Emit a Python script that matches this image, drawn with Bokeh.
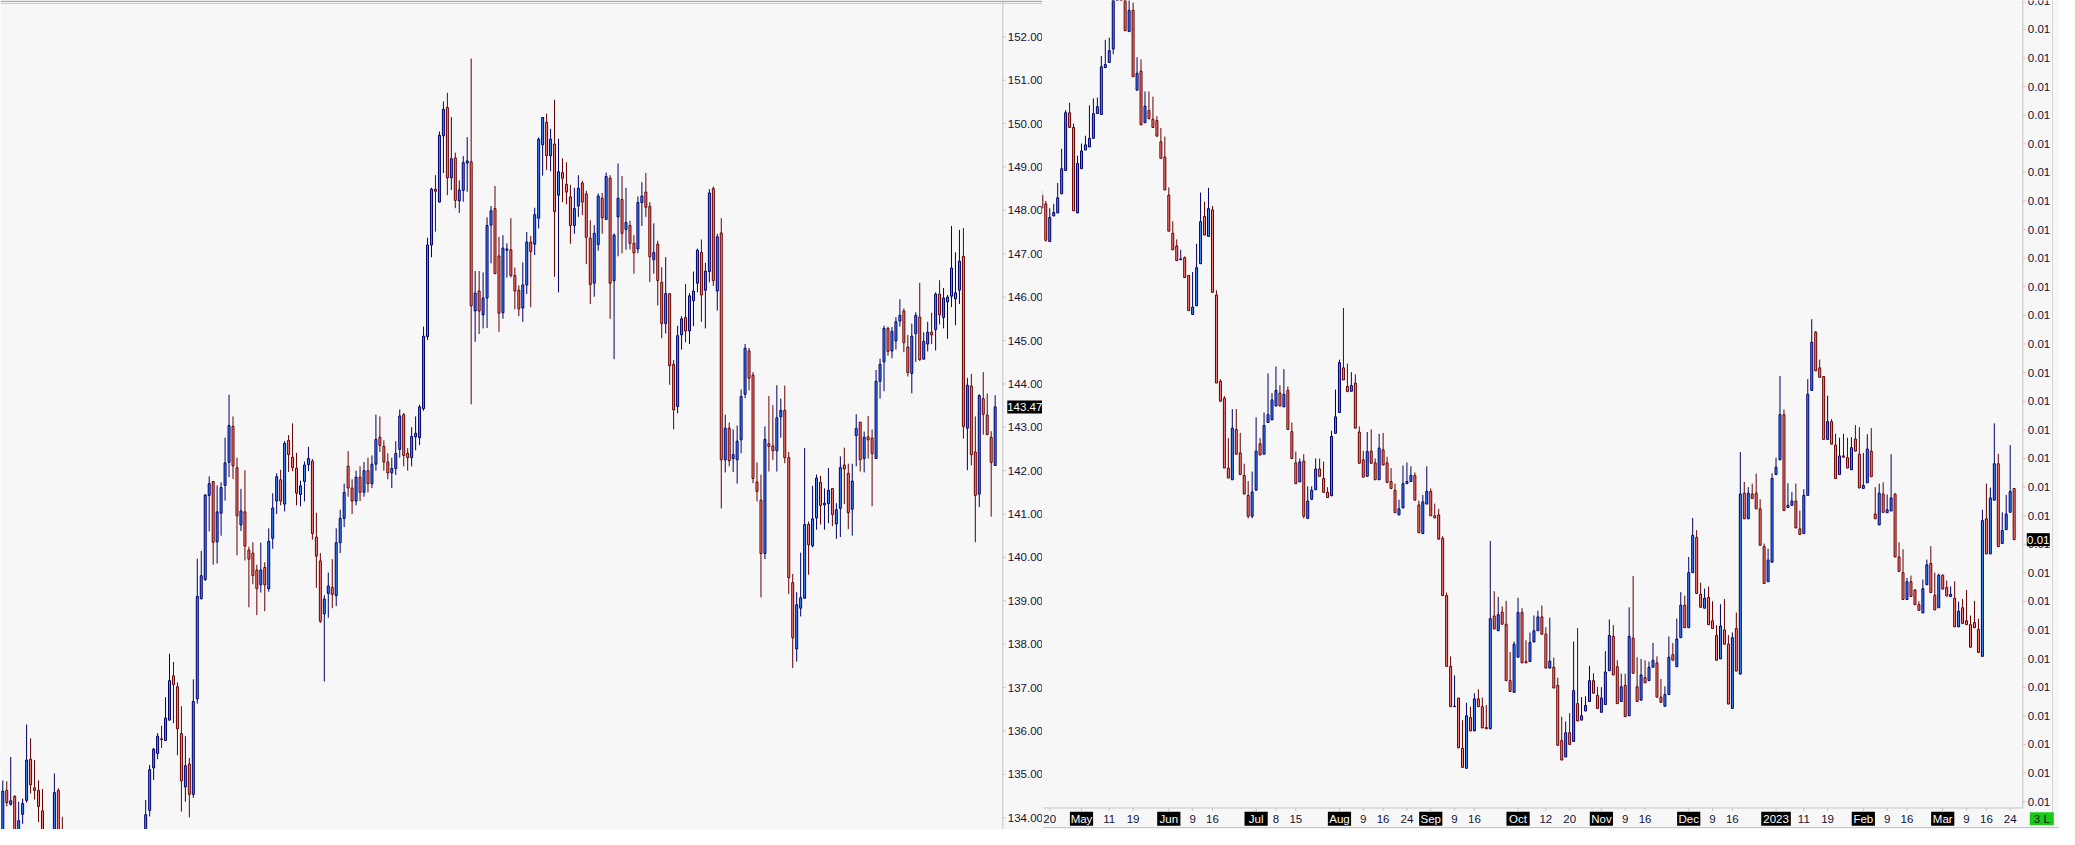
import pandas as pd
from bokeh.plotting import figure
from bokeh.layouts import row
from bokeh.models import ColumnDataSource, Span
from bokeh.core.properties import value
from bokeh.embed import file_html
from bokeh.resources import INLINE

# left panel, daily candles (price axis 134-152)
left_open = [
    133.60, 134.63, 134.31, 134.49, 133.60, 134.08, 134.40, 135.35, 134.69, 134.63,
    134.16, 133.50, 133.20, 133.45, 134.63, 133.50, 133.20, 132.90, 132.60, 132.80,
    132.40, 132.10, 132.50, 132.20, 131.90, 132.30, 132.60, 132.40, 132.80, 133.00,
    132.70, 133.10, 132.90, 133.20, 133.00, 133.30, 133.10, 134.17, 135.15, 135.48,
    135.82, 135.78, 136.25, 137.27, 137.02, 135.94, 134.71, 135.24, 134.54, 136.74,
    139.05, 139.49, 141.43, 141.75, 140.36, 141.02, 141.66, 142.19, 143.02, 142.07,
    140.75, 141.05, 140.17, 140.10, 139.71, 139.37, 139.77, 139.28, 140.44, 141.30,
    141.79, 141.23, 142.70, 142.31, 142.06, 141.45, 141.75, 142.14, 142.22, 140.47,
    139.92, 138.70, 139.17, 139.31, 139.12, 140.34, 140.90, 142.10, 141.60, 141.30,
    141.85, 141.50, 142.00, 141.70, 142.15, 142.77, 142.56, 142.20, 141.95, 142.05,
    142.49, 143.29, 142.40, 142.30, 142.78, 142.76, 143.43, 145.09, 147.20, 148.49,
    148.19, 149.72, 150.37, 148.75, 149.21, 148.22, 148.46, 149.09, 149.12, 145.68,
    146.14, 145.59, 145.98, 147.66, 148.04, 146.95, 145.64, 147.08, 147.09, 146.50,
    146.16, 145.75, 146.28, 147.27, 147.22, 147.82, 149.51, 150.03, 149.26, 149.53,
    148.35, 148.87, 148.60, 148.31, 147.65, 148.10, 148.63, 148.38, 147.36, 146.32,
    147.21, 148.28, 147.79, 148.74, 146.38, 147.85, 148.25, 147.56, 147.65, 147.24,
    147.11, 148.18, 148.42, 148.09, 146.86, 147.22, 146.34, 145.39, 146.08, 144.45,
    143.48, 145.13, 145.53, 145.22, 145.92, 146.32, 147.03, 146.16, 146.59, 148.50,
    146.14, 147.48, 142.25, 142.98, 142.28, 142.25, 142.71, 143.76, 144.76, 144.20,
    141.74, 141.32, 140.09, 142.62, 142.57, 142.46, 143.24, 143.39, 142.30, 139.42,
    137.89, 138.83, 139.06, 140.76, 140.27, 140.91, 141.73, 141.21, 141.24, 141.59,
    140.77, 141.13, 142.13, 141.94, 141.11, 142.81, 143.12, 142.28, 142.78, 142.75,
    142.28, 144.06, 144.51, 145.28, 144.76, 144.99, 145.45, 145.68, 144.85, 144.24,
    145.16, 145.54, 144.57, 144.92, 145.19, 145.25, 146.07, 145.53, 145.89, 146.02,
    145.96, 146.16, 146.94, 142.98, 143.95, 142.43, 141.46, 143.66, 143.28, 142.77,
    142.12,
]
left_high = [
    134.86, 134.84, 135.40, 134.52, 134.37, 134.44, 136.15, 135.83, 135.33, 134.86,
    134.66, 133.70, 133.60, 135.02, 134.68, 134.02, 133.50, 133.30, 133.10, 133.00,
    132.60, 132.70, 132.70, 132.40, 132.50, 132.80, 132.90, 133.00, 133.20, 133.20,
    133.30, 133.40, 133.40, 133.50, 133.60, 133.50, 134.41, 135.22, 135.61, 135.95,
    136.12, 136.78, 137.78, 137.59, 137.12, 136.57, 135.88, 135.38, 137.19, 139.97,
    140.15, 141.45, 141.87, 141.76, 141.66, 141.73, 142.76, 143.75, 143.25, 142.30,
    141.58, 142.01, 140.25, 140.35, 139.83, 140.34, 139.89, 140.67, 141.48, 141.94,
    142.02, 142.68, 142.82, 143.09, 142.41, 141.77, 142.21, 142.55, 142.27, 141.03,
    140.10, 139.13, 139.65, 139.96, 140.67, 141.10, 141.70, 142.45, 141.80, 142.00,
    142.10, 142.20, 142.30, 142.35, 143.29, 143.25, 142.70, 142.40, 142.30, 142.68,
    143.41, 143.33, 142.52, 143.00, 143.25, 143.52, 145.32, 147.37, 148.52, 148.81,
    149.82, 150.51, 150.71, 150.15, 149.33, 148.69, 149.25, 149.69, 151.50, 146.60,
    146.60, 146.57, 147.84, 148.10, 148.56, 147.39, 147.43, 147.24, 147.82, 146.68,
    146.27, 146.80, 147.50, 147.41, 148.06, 149.68, 150.14, 150.23, 149.88, 150.55,
    149.65, 149.20, 149.11, 148.59, 148.52, 148.81, 148.68, 148.45, 147.77, 147.66,
    148.39, 148.40, 148.87, 148.81, 147.47, 149.08, 148.79, 148.52, 147.76, 147.43,
    148.32, 148.65, 148.86, 148.19, 147.70, 147.30, 146.69, 146.92, 146.08, 144.55,
    145.34, 145.56, 146.30, 146.09, 146.59, 147.12, 147.33, 146.79, 148.49, 148.55,
    147.46, 147.82, 143.29, 143.11, 142.95, 143.04, 143.87, 144.92, 144.83, 144.27,
    142.19, 141.91, 143.02, 143.72, 143.51, 143.97, 143.66, 143.96, 142.43, 139.62,
    139.20, 140.11, 142.52, 140.83, 141.65, 141.91, 141.88, 141.59, 142.06, 141.59,
    141.25, 142.33, 142.53, 142.16, 142.16, 143.30, 143.12, 142.90, 143.26, 142.95,
    144.32, 144.58, 145.34, 145.32, 145.31, 145.54, 145.95, 145.74, 145.13, 145.39,
    145.65, 146.33, 145.19, 145.43, 145.64, 146.11, 146.39, 146.21, 146.05, 147.64,
    147.03, 147.55, 147.59, 144.14, 144.23, 143.25, 143.76, 144.27, 143.78, 142.91,
    143.74,
]
left_low = [
    133.40, 134.26, 134.28, 133.40, 133.40, 133.86, 134.35, 134.56, 134.42, 133.90,
    133.40, 133.00, 132.80, 133.30, 133.30, 133.00, 132.70, 132.40, 132.40, 132.20,
    131.80, 131.90, 132.00, 131.70, 131.80, 132.10, 132.20, 132.30, 132.60, 132.50,
    132.60, 132.70, 132.80, 132.80, 132.90, 132.90, 133.00, 134.03, 134.87, 135.35,
    135.61, 135.78, 136.25, 136.18, 135.44, 134.14, 134.37, 134.01, 134.46, 136.63,
    139.03, 139.46, 140.60, 139.83, 139.86, 140.50, 141.31, 141.85, 141.81, 140.05,
    140.61, 139.93, 138.85, 139.38, 138.67, 139.19, 138.76, 139.21, 140.20, 141.00,
    141.20, 141.06, 141.97, 141.99, 141.20, 141.18, 141.29, 141.99, 140.41, 139.30,
    138.49, 137.14, 138.61, 138.83, 138.88, 140.10, 140.70, 141.40, 141.00, 141.20,
    141.30, 141.40, 141.50, 141.60, 142.00, 142.43, 142.00, 141.80, 141.60, 141.90,
    142.30, 142.10, 142.00, 142.10, 142.47, 142.59, 143.38, 145.01, 146.92, 147.51,
    148.19, 148.86, 148.35, 148.47, 148.05, 147.94, 148.20, 148.43, 143.53, 144.97,
    145.15, 145.28, 145.29, 146.78, 146.54, 145.20, 145.50, 146.45, 146.45, 145.72,
    145.56, 145.43, 146.07, 145.77, 146.97, 147.58, 148.80, 148.93, 148.90, 146.47,
    146.11, 148.19, 148.14, 147.23, 147.46, 147.85, 147.89, 146.76, 145.84, 146.01,
    147.07, 147.46, 147.79, 145.50, 144.57, 146.94, 147.01, 147.09, 147.10, 146.54,
    147.01, 147.64, 147.85, 146.35, 146.54, 145.81, 145.05, 145.16, 143.98, 142.95,
    143.32, 144.79, 144.96, 144.92, 145.33, 146.11, 145.43, 145.28, 146.34, 146.26,
    145.69, 141.13, 141.96, 142.10, 141.97, 141.70, 142.40, 143.67, 143.85, 141.71,
    141.29, 139.08, 139.96, 141.98, 142.25, 141.98, 142.76, 142.17, 139.16, 137.45,
    137.60, 138.64, 139.06, 139.60, 140.23, 140.64, 140.76, 140.64, 140.79, 140.72,
    140.43, 140.47, 141.23, 140.65, 140.50, 142.10, 141.98, 141.96, 142.28, 141.18,
    142.28, 143.66, 143.83, 144.65, 144.59, 144.79, 145.32, 144.73, 144.17, 143.78,
    144.51, 144.53, 144.56, 144.75, 144.92, 144.77, 145.37, 145.28, 145.04, 145.77,
    145.35, 145.84, 142.74, 142.01, 142.12, 140.35, 141.16, 142.83, 142.83, 140.94,
    142.12,
]
left_close = [
    134.61, 134.35, 134.39, 133.60, 133.93, 134.33, 135.33, 134.76, 134.63, 134.26,
    133.60, 133.20, 133.40, 134.58, 133.50, 133.20, 132.90, 132.60, 132.80, 132.40,
    132.10, 132.50, 132.20, 131.90, 132.30, 132.60, 132.40, 132.80, 133.00, 132.70,
    133.10, 132.90, 133.20, 133.00, 133.30, 133.10, 134.07, 135.11, 135.58, 135.88,
    135.80, 136.30, 137.16, 137.07, 136.05, 134.85, 135.20, 134.54, 136.68, 139.10,
    139.58, 141.44, 141.70, 140.35, 141.05, 141.61, 142.18, 143.04, 142.11, 140.96,
    141.07, 140.26, 139.96, 139.58, 139.28, 139.71, 139.37, 140.37, 141.14, 141.86,
    141.30, 142.63, 142.37, 142.07, 141.48, 141.65, 142.13, 142.28, 140.55, 140.03,
    138.53, 139.04, 139.34, 139.15, 140.34, 140.90, 141.50, 141.60, 141.30, 141.85,
    141.50, 142.00, 141.70, 142.15, 142.72, 142.58, 142.20, 141.95, 142.05, 142.40,
    143.26, 142.35, 142.30, 142.79, 142.86, 143.47, 145.10, 147.20, 148.49, 148.44,
    149.73, 150.33, 148.75, 149.19, 148.23, 148.47, 149.10, 149.14, 145.80, 146.09,
    145.68, 145.98, 147.65, 147.99, 146.54, 145.63, 147.13, 147.11, 146.50, 146.14,
    145.73, 146.28, 147.27, 147.05, 147.90, 149.64, 150.14, 149.26, 149.64, 147.97,
    148.89, 148.74, 148.42, 147.65, 148.04, 148.51, 148.19, 147.38, 146.29, 147.47,
    148.33, 147.83, 148.78, 146.32, 147.43, 148.28, 147.47, 147.72, 147.24, 147.02,
    148.18, 148.33, 148.07, 146.93, 147.03, 146.38, 145.39, 146.08, 144.42, 143.40,
    145.11, 145.50, 145.22, 146.03, 146.14, 147.08, 146.05, 146.60, 148.40, 146.38,
    147.39, 142.25, 142.98, 142.23, 142.37, 142.68, 143.71, 144.82, 144.13, 141.82,
    141.52, 140.09, 142.72, 142.56, 142.46, 143.22, 143.39, 142.30, 139.53, 138.15,
    138.91, 139.07, 140.76, 140.29, 140.89, 141.83, 141.20, 141.25, 141.55, 140.99,
    141.10, 142.07, 142.04, 141.03, 141.76, 142.97, 142.25, 142.77, 142.71, 142.39,
    144.06, 144.45, 145.28, 144.75, 145.21, 145.43, 145.58, 144.95, 144.26, 145.10,
    145.58, 144.56, 144.98, 145.19, 145.13, 146.07, 145.59, 145.98, 146.00, 146.67,
    146.10, 146.83, 143.02, 143.97, 142.37, 141.43, 143.73, 143.30, 142.83, 142.19,
    143.47,
]

# right panel, daily candles from 2022-04-18
right_open = [
    148.35, 148.15, 147.28, 147.87, 147.94, 148.38, 148.92, 150.25, 149.91, 147.94,
    148.96, 149.39, 149.46, 149.66, 150.23, 150.21, 151.29, 151.41, 151.72, 153.00,
    153.40, 153.10, 152.12, 152.61, 150.77, 151.21, 150.02, 150.30, 150.10, 150.07,
    149.58, 149.23, 148.35, 147.47, 147.18, 146.86, 146.91, 146.50, 145.60, 145.80,
    146.77, 147.86, 147.40, 148.01, 146.05, 144.06, 143.67, 142.06, 141.79, 142.95,
    142.41, 141.89, 141.43, 140.95, 141.55, 142.62, 142.38, 143.11, 143.17, 143.49,
    143.79, 143.47, 143.85, 142.90, 142.18, 141.74, 142.22, 140.90, 141.34, 141.56,
    142.04, 141.82, 141.50, 141.42, 142.86, 143.34, 144.37, 143.94, 143.83, 144.02,
    142.89, 142.25, 141.87, 142.45, 142.18, 141.79, 142.48, 142.18, 141.75, 141.55,
    140.98, 141.14, 141.70, 141.75, 141.89, 141.21, 140.55, 141.23, 141.52, 140.96,
    140.98, 140.44, 139.12, 137.49, 136.56, 136.76, 135.60, 135.14, 136.31, 136.00,
    136.74, 136.56, 136.08, 136.05, 138.65, 138.31, 138.74, 138.46, 137.16, 136.89,
    137.70, 138.73, 137.60, 137.60, 138.05, 138.31, 138.63, 138.23, 137.45, 137.47,
    137.05, 135.78, 135.40, 135.96, 135.76, 136.63, 136.25, 136.46, 136.68, 137.16,
    136.82, 136.43, 136.61, 137.39, 138.18, 137.48, 136.68, 137.05, 136.35, 138.14,
    137.02, 136.71, 137.23, 137.16, 137.47, 137.57, 136.78, 136.57, 136.84, 137.76,
    137.48, 138.15, 138.90, 138.38, 139.65, 140.46, 139.15, 138.83, 139.08, 138.54,
    138.20, 137.66, 138.33, 138.00, 136.52, 138.36, 137.31, 141.48, 140.89, 141.46,
    141.48, 141.12, 140.25, 139.44, 139.89, 141.91, 142.25, 143.29, 141.15, 141.20,
    141.30, 140.66, 140.55, 141.43, 143.85, 145.19, 144.37, 144.17, 142.72, 143.13,
    142.59, 141.91, 142.34, 142.30, 142.02, 142.73, 142.38, 141.59, 141.72, 142.45,
    141.00, 140.75, 141.46, 141.03, 141.07, 141.46, 140.01, 139.65, 139.03, 139.44,
    139.25, 138.91, 138.72, 139.37, 139.86, 139.13, 138.84, 139.59, 139.31, 139.10,
    139.06, 138.40, 138.84, 138.54, 138.45, 138.50, 138.34, 137.72, 140.89, 140.08,
    141.32, 142.16, 140.32, 140.64, 141.04, 141.59,
]
right_high = [
    148.47, 148.22, 148.05, 148.15, 148.63, 149.42, 150.31, 150.48, 150.00, 149.26,
    149.54, 149.72, 150.42, 150.58, 150.60, 151.56, 151.93, 151.98, 153.30, 153.60,
    153.80, 153.30, 153.00, 152.79, 151.53, 151.48, 150.74, 150.74, 150.62, 150.17,
    149.90, 149.70, 148.53, 147.75, 147.33, 147.09, 146.94, 146.50, 146.58, 147.23,
    148.41, 148.20, 148.52, 148.10, 146.16, 144.11, 143.72, 142.75, 143.42, 143.42,
    142.87, 142.16, 141.76, 141.98, 143.23, 142.75, 143.34, 144.24, 143.79, 144.40,
    143.97, 144.34, 143.94, 143.11, 142.44, 142.28, 142.38, 141.64, 141.64, 142.28,
    142.28, 142.21, 141.62, 142.92, 143.87, 144.56, 145.75, 144.47, 144.27, 144.22,
    143.02, 142.46, 142.89, 142.95, 142.28, 142.85, 142.87, 142.32, 142.06, 141.70,
    141.33, 142.12, 142.19, 142.10, 141.96, 141.31, 141.44, 142.10, 141.59, 141.24,
    141.12, 140.49, 139.19, 137.72, 137.28, 136.76, 136.25, 136.65, 136.56, 136.87,
    136.96, 136.77, 136.60, 140.38, 139.22, 139.09, 138.87, 139.00, 137.82, 138.06,
    139.07, 138.83, 138.09, 138.27, 138.66, 138.77, 138.89, 138.39, 138.61, 137.69,
    137.23, 136.33, 136.22, 136.41, 138.06, 138.37, 136.78, 136.80, 137.50, 137.33,
    137.02, 137.01, 137.84, 138.57, 138.44, 137.63, 137.32, 137.32, 138.85, 139.57,
    137.70, 137.66, 137.63, 137.60, 138.03, 137.72, 137.20, 137.03, 138.18, 138.03,
    138.59, 139.20, 139.12, 140.01, 140.91, 140.63, 139.42, 139.28, 139.33, 138.99,
    138.44, 138.92, 139.04, 138.21, 138.27, 138.73, 142.43, 141.74, 141.62, 141.70,
    141.93, 141.34, 140.32, 140.20, 141.94, 142.30, 144.18, 143.41, 141.71, 141.51,
    141.70, 141.08, 141.57, 144.11, 145.49, 145.22, 144.56, 144.17, 143.73, 143.19,
    142.85, 142.76, 142.85, 142.76, 142.77, 143.05, 143.00, 142.41, 142.84, 142.98,
    141.62, 141.70, 141.73, 141.45, 142.38, 141.48, 140.35, 140.19, 139.53, 139.58,
    139.27, 138.99, 139.49, 139.95, 140.26, 139.65, 139.63, 139.61, 139.47, 139.33,
    139.45, 138.98, 139.04, 139.25, 138.66, 139.00, 138.59, 141.10, 141.70, 141.61,
    143.09, 142.39, 141.04, 141.44, 142.59, 141.59,
]
right_low = [
    147.95, 147.28, 147.28, 147.87, 147.94, 148.38, 148.92, 149.91, 147.99, 147.94,
    148.96, 149.39, 149.46, 149.66, 150.23, 150.21, 151.29, 151.41, 151.60, 152.90,
    152.95, 152.14, 152.12, 151.08, 150.77, 149.97, 150.02, 150.11, 149.91, 149.71,
    149.20, 148.47, 147.52, 147.09, 146.84, 146.86, 146.45, 145.69, 145.60, 145.80,
    146.77, 147.43, 147.40, 146.11, 144.02, 143.60, 142.06, 141.83, 141.79, 142.38,
    141.91, 141.46, 140.90, 140.90, 141.55, 142.36, 142.38, 143.11, 143.17, 143.49,
    143.49, 143.47, 142.95, 142.28, 141.70, 141.74, 140.90, 140.90, 141.34, 141.56,
    141.87, 141.50, 141.38, 141.42, 142.86, 143.34, 144.09, 143.82, 143.83, 142.98,
    142.17, 141.85, 141.87, 142.17, 141.79, 141.79, 142.13, 141.73, 141.59, 141.03,
    140.98, 141.14, 141.70, 141.75, 141.32, 140.57, 140.55, 141.23, 140.96, 140.91,
    140.42, 139.12, 137.49, 136.56, 136.55, 135.61, 135.16, 135.14, 136.00, 136.00,
    136.56, 136.07, 136.05, 136.05, 138.35, 138.31, 138.46, 137.16, 136.91, 136.89,
    137.70, 137.57, 137.57, 137.60, 138.05, 138.31, 138.23, 137.45, 137.45, 136.99,
    135.67, 135.33, 135.40, 135.69, 135.76, 136.23, 136.25, 136.46, 136.68, 136.87,
    136.52, 136.43, 136.61, 137.39, 137.29, 136.63, 136.68, 136.33, 136.35, 137.33,
    136.68, 136.71, 137.11, 137.16, 137.47, 136.78, 136.66, 136.57, 136.84, 137.63,
    137.48, 138.15, 138.38, 138.38, 139.65, 139.17, 138.85, 138.83, 138.45, 138.36,
    137.63, 137.66, 138.00, 136.62, 136.52, 137.38, 137.31, 140.89, 140.89, 141.36,
    141.12, 140.28, 139.40, 139.44, 139.89, 141.91, 142.25, 141.08, 141.15, 141.20,
    140.68, 140.53, 140.55, 141.43, 143.85, 144.30, 144.15, 142.72, 142.72, 142.61,
    141.82, 141.91, 142.31, 142.06, 142.02, 142.45, 141.60, 141.59, 141.72, 141.86,
    140.89, 140.75, 141.04, 141.03, 141.07, 140.01, 139.68, 139.03, 139.03, 139.10,
    138.91, 138.78, 138.72, 139.37, 139.19, 138.79, 138.84, 139.27, 139.11, 139.10,
    138.40, 138.40, 138.48, 138.45, 137.93, 138.38, 137.81, 137.72, 140.08, 140.08,
    141.32, 140.25, 140.32, 140.64, 141.04, 140.41,
]
right_close = [
    148.05, 147.31, 147.84, 147.95, 148.29, 148.96, 150.25, 149.91, 147.99, 149.08,
    149.37, 149.51, 149.66, 150.23, 150.39, 151.31, 151.36, 151.68, 153.00, 153.40,
    153.10, 152.14, 152.61, 151.08, 151.16, 149.97, 150.40, 150.11, 149.91, 149.71,
    149.20, 148.47, 147.52, 147.09, 146.84, 146.88, 146.45, 145.69, 145.77, 146.68,
    147.74, 147.43, 148.04, 146.11, 144.02, 143.60, 142.06, 141.83, 142.98, 142.38,
    141.91, 141.46, 140.95, 141.51, 142.45, 142.36, 143.04, 143.29, 143.63, 143.85,
    143.49, 143.76, 142.95, 142.28, 141.70, 142.20, 140.95, 141.30, 141.55, 142.04,
    141.87, 141.50, 141.38, 142.79, 143.24, 144.49, 144.09, 143.82, 143.96, 142.98,
    142.17, 141.85, 142.44, 142.17, 141.79, 142.52, 142.13, 141.73, 141.59, 141.03,
    141.12, 141.70, 141.75, 141.89, 141.32, 140.57, 141.28, 141.52, 140.96, 140.91,
    140.42, 139.12, 137.49, 136.56, 136.57, 135.61, 135.16, 136.35, 136.00, 136.74,
    136.56, 136.07, 136.05, 138.59, 138.35, 138.68, 138.46, 137.16, 136.91, 138.00,
    138.73, 137.57, 137.57, 138.04, 138.31, 138.63, 138.23, 137.45, 137.61, 136.99,
    135.67, 135.33, 135.96, 135.69, 136.93, 136.23, 136.35, 136.59, 137.16, 136.87,
    136.52, 136.76, 137.36, 138.20, 137.29, 136.63, 137.02, 136.33, 138.18, 137.33,
    136.68, 137.29, 137.11, 137.47, 137.63, 136.78, 136.66, 136.84, 137.70, 137.63,
    138.12, 138.90, 138.38, 139.65, 140.51, 139.17, 138.85, 139.06, 138.45, 138.36,
    137.63, 138.42, 138.00, 136.62, 138.15, 137.38, 141.46, 140.89, 141.48, 141.36,
    141.12, 140.28, 139.40, 139.94, 141.82, 142.08, 143.29, 141.08, 141.20, 141.30,
    140.68, 140.53, 141.43, 143.76, 144.96, 144.30, 144.15, 142.72, 143.13, 142.61,
    141.82, 142.34, 142.31, 142.06, 142.53, 142.45, 141.60, 141.66, 142.50, 141.86,
    140.89, 141.48, 141.04, 141.10, 141.37, 140.01, 139.68, 139.03, 139.44, 139.10,
    138.91, 138.78, 139.28, 139.83, 139.19, 138.79, 139.59, 139.27, 139.11, 139.15,
    138.40, 138.76, 138.48, 138.45, 137.93, 138.38, 137.81, 140.85, 140.08, 141.37,
    142.16, 140.25, 140.62, 141.00, 141.52, 140.41,
]

# date axis of the right panel
tick_dates = [
    "2022-04-20", "2022-05-02", "2022-05-11", "2022-05-19", "2022-06-01", "2022-06-09",
    "2022-06-16", "2022-07-01", "2022-07-08", "2022-07-15", "2022-08-01", "2022-08-09",
    "2022-08-16", "2022-08-24", "2022-09-01", "2022-09-09", "2022-09-16", "2022-10-03",
    "2022-10-12", "2022-10-20", "2022-11-01", "2022-11-09", "2022-11-16", "2022-12-01",
    "2022-12-09", "2022-12-16", "2023-01-02", "2023-01-11", "2023-01-19", "2023-02-01",
    "2023-02-09", "2023-02-16", "2023-03-01", "2023-03-09", "2023-03-16", "2023-03-24",
]
tick_text = [
    "20", "May", "11", "19", "Jun", "9", "16", "Jul", "8", "15", "Aug", "9", "16", "24",
    "Sep", "9", "16", "Oct", "12", "20", "Nov", "9", "16", "Dec", "9", "16", "2023",
    "11", "19", "Feb", "9", "16", "Mar", "9", "16", "24",
]
left_levels = list(range(134, 153))
left_last = 143.47
right_label = "0.01"
right_last_level = 140.41
pane_label = "3 L"

BG = "#f7f7f7"
UP_FILL, UP_LINE = "#3f8cff", "#00006a"
DN_FILL, DN_LINE = "#ff8282", "#640000"
AXIS = "#c4c4c4"
TEXT = "#12123a"
FONT = "Liberation Sans"
FSIZE = "11.5px"

# figure geometry: each plot frame fills its whole figure, the price scales
# and the date band are drawn inside the frame so the tags can sit on them
LW, RW, H = 1042, 1017, 829
Y = (133.729, 152.837)
L_X, L_AXIS_X = (-0.575, 261.925), 251.925
R_X, R_AXIS_X, R_EDGE_X = (0.175, 256.425), 247.175, 254.675
BAND_TOP, BAND_BOTTOM, BAND_MID = 134.226, 133.774, 133.977
UX = (L_X[1] - L_X[0]) / LW    # data units per pixel, x
UY = (Y[1] - Y[0]) / H         # data units per pixel, y


def candle_source(o, h, l, c):
    up = [cc >= oo for oo, cc in zip(o, c)]
    return ColumnDataSource(dict(
        x=list(range(len(o))),
        high=h,
        low=l,
        top=[max(a, b) for a, b in zip(o, c)],
        bottom=[min(a, b) for a, b in zip(o, c)],
        fill=[UP_FILL if u else DN_FILL for u in up],
        line=[UP_LINE if u else DN_LINE for u in up],
    ))


def draw_candles(p, src):
    p.segment(x0="x", y0="high", x1="x", y1="low", source=src, line_color="line", line_width=1)
    p.vbar(x="x", width=0.5, top="top", bottom="bottom", source=src,
           fill_color="fill", line_color="line", line_width=1)


def make_figure(width, x_range):
    p = figure(width=width, height=H, x_range=x_range, y_range=Y,
               output_backend="svg", toolbar_location=None,
               x_axis_location=None, y_axis_location=None,
               min_border_left=0, min_border_right=0, min_border_top=0, min_border_bottom=0)
    p.background_fill_color = BG
    p.border_fill_color = BG
    p.outline_line_color = None
    p.grid.visible = False
    p.frame_align = False
    return p


def add_text(p, xs, ys, texts, color=TEXT, align="left"):
    p.text(x=xs, y=ys, text=texts, text_align=align, text_baseline="middle",
           text_color=color, text_font=value(FONT), text_font_size=value(FSIZE))


def price_scale(p, x_line, y_low, ticks, labels):
    p.segment(x0=[x_line], y0=[y_low], x1=[x_line], y1=[Y[1]], line_color=AXIS, line_width=1)
    n = len(ticks)
    p.segment(x0=[x_line] * n, y0=ticks, x1=[x_line + 3 * UX] * n, y1=ticks,
              line_color=AXIS, line_width=1)
    add_text(p, [x_line + 5 * UX] * n, ticks, labels)


def tag(p, x, y, text, w, fill, color="white", h=13):
    p.rect(x=[x], y=[y], width=w, height=h, width_units="screen", height_units="screen",
           fill_color=fill, line_color=None)
    add_text(p, [x], [y], [text], color=color, align="center")


# ---- left panel
left = make_figure(LW, L_X)
draw_candles(left, candle_source(left_open, left_high, left_low, left_close))
left.add_layout(Span(location=152.82, dimension="width", line_color="#8c8c8c", line_width=1))
left.add_layout(Span(location=152.77, dimension="width", line_color="#c8c8c8", line_width=1))
price_scale(left, L_AXIS_X, Y[0], left_levels, [f"{v:.2f}" for v in left_levels])
tag(left, L_AXIS_X + 22 * UX, left_last, f"{left_last:.2f}", 35, "black")

# ---- right panel
right = make_figure(RW, R_X)
draw_candles(right, candle_source(right_open, right_high, right_low, right_close))

right_ticks = [round(152.83 - 0.6592 * k, 4) for k in range(29)]
price_scale(right, R_AXIS_X, BAND_TOP, right_ticks, [right_label] * len(right_ticks))
right.segment(x0=[R_EDGE_X], y0=[BAND_BOTTOM], x1=[R_EDGE_X], y1=[Y[1]],
              line_color="#d4d4d4", line_width=1)
tag(right, R_AXIS_X + 15.5 * UX, right_last_level, right_label, 23, "black")

# date band
dates = pd.bdate_range("2022-04-18", periods=len(right_open)).strftime("%Y-%m-%d")
pos = {d: i for i, d in enumerate(dates)}
tick_idx = [pos[d] for d in tick_dates]
is_month = [not t.isdigit() or len(t) == 4 for t in tick_text]

right.segment(x0=[R_X[0], R_X[0]], y0=[BAND_TOP, BAND_BOTTOM],
              x1=[R_AXIS_X, R_X[1]], y1=[BAND_TOP, BAND_BOTTOM], line_color=AXIS, line_width=1)
right.segment(x0=tick_idx, y0=[BAND_TOP] * len(tick_idx), x1=tick_idx,
              y1=[BAND_TOP - 3 * UY] * len(tick_idx), line_color=AXIS, line_width=1)
day_idx = [i for i, m in zip(tick_idx, is_month) if not m]
day_txt = [t for t, m in zip(tick_text, is_month) if not m]
add_text(right, day_idx, [BAND_MID] * len(day_idx), day_txt, align="center")
for i, t, m in zip(tick_idx, tick_text, is_month):
    if m:
        tag(right, i, BAND_MID, t, len(t) * 6.4 + 4, "black", h=14)

tag(right, R_AXIS_X + 19 * UX, BAND_MID, pane_label, 24, "#19c819", color="#102010")

layout = row(left, right)
open("out.html", "w").write(file_html(layout, INLINE))
